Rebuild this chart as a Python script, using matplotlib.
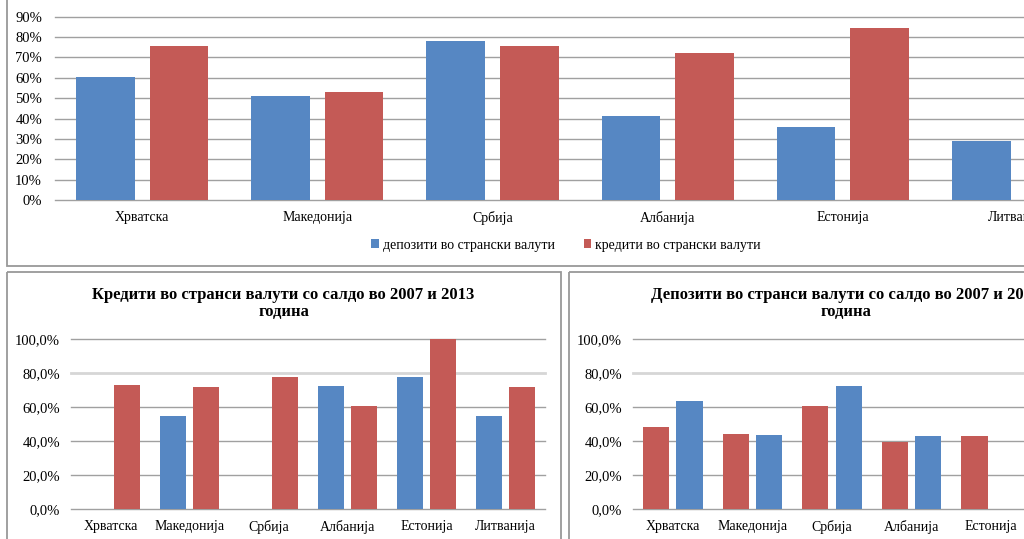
import numpy as np
import matplotlib
matplotlib.use("Agg")
import matplotlib.pyplot as plt
from matplotlib.patches import Rectangle

plt.rcParams['font.family'] = ['Liberation Serif', 'DejaVu Serif']

# data (percent)
countries = ['Хрватска', 'Македонија', 'Србија', 'Албанија', 'Естонија', 'Литванија']

# top chart: share of deposits / loans in foreign currency
deposits_fx = [60.6, 51.3, 78.1, 41.2, 35.6, 28.9]
loans_fx = [75.5, 52.8, 75.5, 72.1, 84.3, np.nan]   # last one is off the picture
top_series = ['депозити во странски валути', 'кредити во странски валути']

# bottom left: loans in foreign currency, 2007 / 2013
loans_blue = [np.nan, 54.7, np.nan, 72.5, 78.0, 54.7]
loans_red = [72.9, 72.1, 77.6, 60.8, 100.0, 72.1]
loans_title = 'Кредити во странси валути со салдо во 2007 и 2013\nгодина'

# bottom right: deposits in foreign currency (only five groups are visible)
dep_countries = countries[:5]
dep_red = [48.4, 44.1, 60.9, 39.8, 43.1]
dep_blue = [63.9, 43.5, 72.5, 43.1, np.nan]
dep_title = 'Депозити во странси валути со салдо во 2007 и 2013\nгодина'

BLUE = '#5687C3'
RED = '#C45A56'
GRID = '#A0A0A0'

W, H = 1024, 539
fig = plt.figure(figsize=(W / 100, H / 100), dpi=100)


def px_axes(left, right, top, bottom):
    # pixel box (from the top left corner) -> figure fraction
    return fig.add_axes([left / W, 1 - bottom / H, (right - left) / W, (bottom - top) / H])


# overlay in pixels for the frames and titles
ov = fig.add_axes([0, 0, 1, 1], zorder=-1)
ov.set_xlim(0, W)
ov.set_ylim(H, 0)
ov.axis('off')
for x0, y0, x1, y1 in [(7, -10, 1040, 265.5), (7, 272, 560.5, 550), (569, 272, 1123, 550)]:
    ov.add_patch(Rectangle((x0, y0), x1 - x0, y1 - y0, fill=False,
                           edgecolor='#999999', lw=1.3))
ov.text(283.5, 303.5, loans_title, ha='center', va='center', fontsize=12,
        fontweight='bold', linespacing=1.1)
ov.text(846, 303.5, dep_title, ha='center', va='center', fontsize=12,
        fontweight='bold', linespacing=1.1)


def style(ax, n, ylim, ticks, fmt, pad_y):
    ax.set_xlim(-0.5, n - 0.5)
    ax.set_ylim(*ylim)
    ax.set_yticks(ticks)
    ax.set_yticklabels([fmt(t) for t in ticks])
    ax.yaxis.grid(True, color=GRID, lw=1.0)
    for gl in ax.get_ygridlines():
        gl.set_clip_on(False)
    ax.set_axisbelow(True)
    for s in ax.spines.values():
        s.set_visible(False)
    ax.tick_params(axis='both', length=0, labelsize=10)
    ax.tick_params(axis='y', pad=pad_y, labelsize=10.5)
    ax.tick_params(axis='x', pad=8)


# top chart
ax = px_axes(54.5, 54.5 + 6 * 175.2, 16.7, 200)
x = np.arange(len(countries))
b1 = ax.bar(x - 0.21, deposits_fx, 0.334, color=BLUE, label=top_series[0])
b2 = ax.bar(x + 0.21, loans_fx, 0.334, color=RED, label=top_series[1])
style(ax, 6, (0, 90), np.arange(0, 91, 10), lambda t: f'{t:.0f}%', 9)
ax.set_xticks(x)
ax.set_xticklabels(countries)
fig.legend(handles=[b1, b2], loc='center', bbox_to_anchor=(566 / W, 1 - 245 / H),
           ncol=2, frameon=False, fontsize=10, handlelength=0.55, handleheight=0.55,
           handletextpad=0.25, columnspacing=2.1, borderaxespad=0)

# bottom left
ax2 = px_axes(71, 71 + 6 * 79, 339.3, 509.3)
ax2.bar(x - 0.209, loans_blue, 0.33, color=BLUE)
ax2.bar(x + 0.209, loans_red, 0.33, color=RED)
style(ax2, 6, (0, 100), np.arange(0, 101, 20), lambda t: f'{t:.1f}%'.replace('.', ','), 8)
ax2.set_xticks(x)
ax2.set_xticklabels(countries)
ax2.get_ygridlines()[4].set_color('#D6D6D6')
ax2.get_ygridlines()[4].set_linewidth(2)

# bottom right
ax3 = px_axes(633, 633 + 6 * 79.6, 339.3, 509.3)
x5 = np.arange(len(dep_countries))
ax3.bar(x5 - 0.209, dep_red, 0.33, color=RED)
ax3.bar(x5 + 0.209, dep_blue, 0.33, color=BLUE)
style(ax3, 6, (0, 100), np.arange(0, 101, 20), lambda t: f'{t:.1f}%'.replace('.', ','), 8)
ax3.set_xticks(x5)
ax3.set_xticklabels(dep_countries)
ax3.get_ygridlines()[4].set_color('#D6D6D6')
ax3.get_ygridlines()[4].set_linewidth(2)

fig.savefig('out.png', dpi=100)
